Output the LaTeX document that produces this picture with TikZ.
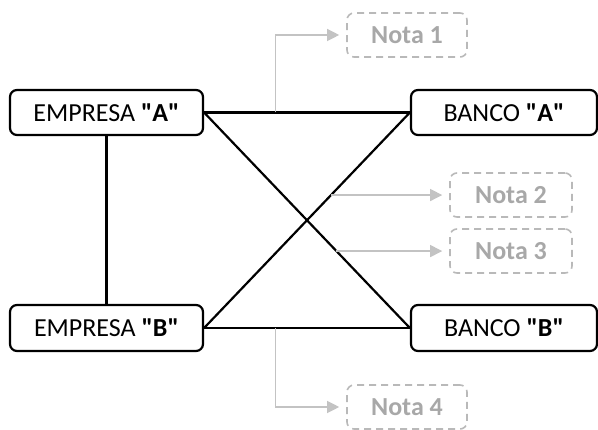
\documentclass[tikz,border=0pt]{standalone}
\usepackage{fontspec}
\setmainfont{Carlito}[Ligatures=TeXOff]
\usetikzlibrary{arrows.meta,calc}
\definecolor{notetext}{RGB}{168,168,168}
\definecolor{noteline}{RGB}{185,185,185}
\definecolor{notearrow}{RGB}{195,195,195}
\begin{document}
\begin{tikzpicture}[x=1pt,y=-1pt,
  mainbox/.style={draw=black,line width=2.2pt,rounded corners=7pt,fill=white,
    inner sep=0pt,font=\fontsize{26}{30}\selectfont},
  notebox/.style={draw=noteline,line width=1.6pt,dash pattern=on 7pt off 5pt,
    rounded corners=7pt,inner sep=0pt,minimum height=44pt,
    text=notetext,font=\fontsize{26}{30}\selectfont\bfseries},
  link/.style={draw=black,line width=2.2pt},
  notelink/.style={draw=notearrow,line width=1.2pt,
    -{Triangle[length=12pt,width=12pt]},shorten >=7pt}
]
\useasboundingbox (0,0) rectangle (598,430);
% main boxes
\node[mainbox,minimum width=193pt,minimum height=45pt] (EA) at (106.5,112.5) {EMPRESA \textbf{"A"}};
\node[mainbox,minimum width=193pt,minimum height=46pt] (EB) at (106.5,328) {EMPRESA \textbf{"B"}};
\node[mainbox,minimum width=186pt,minimum height=45pt] (BA) at (504,112.5) {BANCO \textbf{"A"}};
\node[mainbox,minimum width=186pt,minimum height=46pt] (BB) at (504,328) {BANCO \textbf{"B"}};
% notes
\node[notebox,minimum width=120pt] (N1) at (407,35) {Nota 1};
\node[notebox,minimum width=122pt] (N2) at (511,195) {Nota 2};
\node[notebox,minimum width=122pt] (N3) at (511,251) {Nota 3};
\node[notebox,minimum width=120pt] (N4) at (407,407) {Nota 4};
% connectors
\draw[link] (EA.south) -- (EB.north);
\draw[link] (EA.east) -- (BA.west);
\draw[link] (EB.east) -- (BB.west);
\draw[link] (EA.east) -- (BB.west);
\draw[link] (EB.east) -- (BA.west);
% note link starts
\coordinate (s1) at ($(EA.east)!0.346!(BA.west)$);
\coordinate (s2) at ($(EB.east)!0.617!(BA.west)$);
\coordinate (s3) at ($(EA.east)!0.643!(BB.west)$);
\coordinate (s4) at ($(EB.east)!0.346!(BB.west)$);
\draw[notelink] (s1) |- (N1.west);
\draw[notelink] (s2) -- (s2 -| N2.west);
\draw[notelink] (s3) -- (s3 -| N3.west);
\draw[notelink] (s4) |- (N4.west);
\end{tikzpicture}
\end{document}
